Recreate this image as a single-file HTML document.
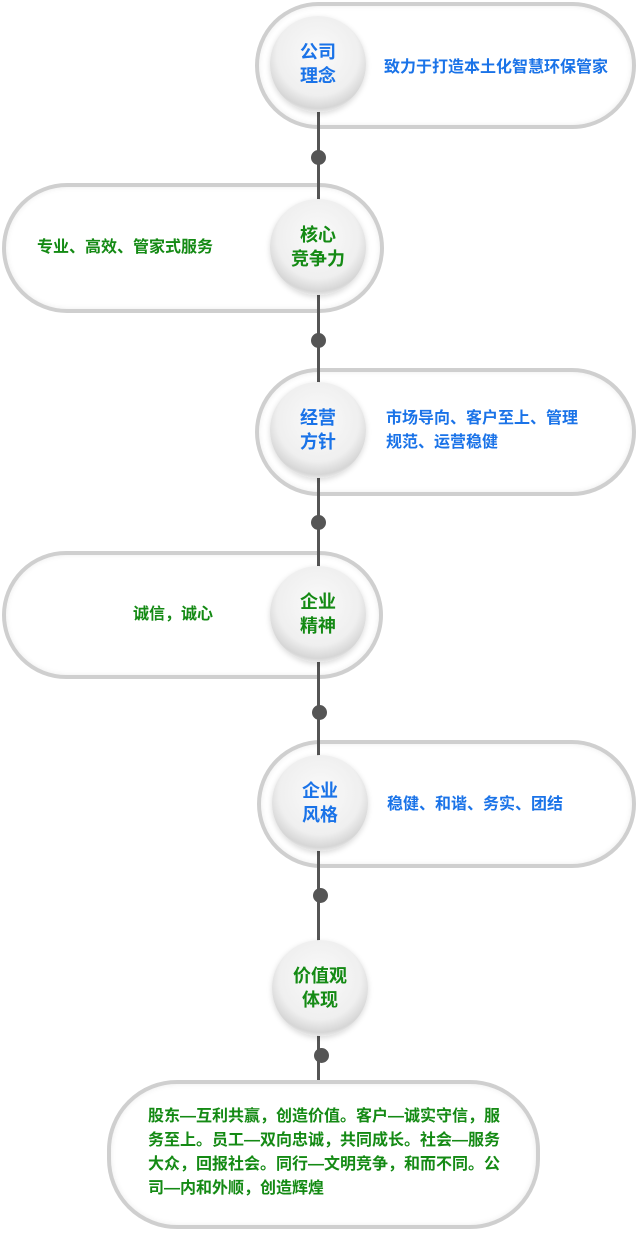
<!DOCTYPE html>
<html><head><meta charset="utf-8"><style>
body{margin:0;width:639px;height:1245px;background:#fff;position:relative;overflow:hidden;font-family:"Liberation Sans","Noto Sans CJK SC",sans-serif;font-weight:bold}
.line{position:absolute;left:317px;top:110px;width:3px;height:970px;background:#555}
.pill{position:absolute;border:4px solid #cfcfcf;border-radius:70px;background:#fff;box-sizing:border-box;box-shadow:inset 0 0 6px rgba(0,0,0,.08)}
.c{position:absolute;width:96px;height:96px;border-radius:50%;background:radial-gradient(circle at 50% 40%,#fafafa 0,#efefef 55%,#d6d6d6 72%,#f3f3f3 80%,#e4e4e4 100%);box-shadow:0 2px 6px rgba(0,0,0,.15);display:flex;align-items:center;justify-content:center;text-align:center;font-size:18px;line-height:24px}
.dot{position:absolute;width:15px;height:15px;border-radius:50%;background:#555}
.t{position:absolute;font-size:16px;line-height:24px}
.b{color:#1a73e8}.g{color:#148a14}
</style></head><body>
<div class="pill" style="left:255px;top:2px;width:381px;height:127px"></div>
<div class="pill" style="left:2px;top:183px;width:382px;height:130px"></div>
<div class="pill" style="left:255px;top:368px;width:381px;height:128px"></div>
<div class="pill" style="left:2px;top:551px;width:381px;height:128px"></div>
<div class="pill" style="left:257px;top:740px;width:379px;height:128px"></div>
<div class="line"></div>
<div class="pill" style="left:107px;top:1080px;width:433px;height:149px"></div>
<div class="c b" style="left:270px;top:16px">公司<br>理念</div>
<div class="c g" style="left:270px;top:199px">核心<br>竞争力</div>
<div class="c b" style="left:270px;top:382px">经营<br>方针</div>
<div class="c g" style="left:270px;top:566px">企业<br>精神</div>
<div class="c b" style="left:272px;top:755px">企业<br>风格</div>
<div class="c g" style="left:272px;top:940px">价值观<br>体现</div>
<div class="dot" style="left:311px;top:150px"></div>
<div class="dot" style="left:311px;top:333px"></div>
<div class="dot" style="left:311px;top:515px"></div>
<div class="dot" style="left:312px;top:705px"></div>
<div class="dot" style="left:313px;top:888px"></div>
<div class="dot" style="left:314px;top:1048px"></div>
<div class="t b" style="left:384px;top:56px">致力于打造本土化智慧环保管家</div>
<div class="t g" style="left:37px;top:236px">专业、高效、管家式服务</div>
<div class="t b" style="left:386px;top:407px">市场导向、客户至上、管理<br>规范、运营稳健</div>
<div class="t g" style="left:133px;top:603px">诚信，诚心</div>
<div class="t b" style="left:387px;top:793px">稳健、和谐、务实、团结</div>
<div class="t g" style="left:148px;top:1105px;width:360px">股东—互利共赢，创造价值。客户—诚实守信，服务至上。员工—双向忠诚，共同成长。社会—服务大众，回报社会。同行—文明竞争，和而不同。公司—内和外顺，创造辉煌</div>
</body></html>
